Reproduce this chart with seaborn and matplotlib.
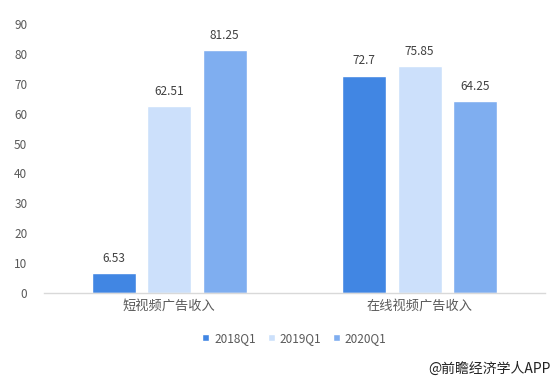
import pandas as pd
import matplotlib
matplotlib.use('Agg')
import matplotlib.pyplot as plt
import seaborn as sns

categories = ['短视频广告收入', '在线视频广告收入']
quarters = ['2018Q1', '2019Q1', '2020Q1']
q2018 = [6.53, 72.7]
q2019 = [62.51, 75.85]
q2020 = [81.25, 64.25]
colors = ['#4186E3', '#CCE0FB', '#7FAEF0']

df = pd.DataFrame({
    'cat': categories * 3,
    'quarter': [quarters[0]] * 2 + [quarters[1]] * 2 + [quarters[2]] * 2,
    'value': q2018 + q2019 + q2020,
})

sns.set_style('white')
plt.rcParams['font.family'] = ['Noto Sans CJK SC', 'DejaVu Sans']

fig = plt.figure(figsize=(5.57, 3.84), dpi=100)
ax = fig.add_axes([0.079, 0.237, 0.899, 0.7005])

sns.barplot(data=df, x='cat', y='value', hue='quarter', palette=colors,
            width=0.666, gap=0.21, ax=ax, saturation=1, legend=True)

for c in ax.containers:
    ax.bar_label(c, labels=[f'{v:g}' for v in c.datavalues], padding=6,
                 fontsize=8.5, color='#404040')

ax.set_ylim(0, 90)
ax.set_yticks(range(0, 91, 10))
ax.set_xlabel('')
ax.set_ylabel('')
for s in ['top', 'right', 'left']:
    ax.spines[s].set_visible(False)
ax.spines['bottom'].set_color('#D9D9D9')
ax.spines['bottom'].set_linewidth(1)
ax.tick_params(axis='y', length=0, labelsize=8.5, labelcolor='#595959', pad=12)
ax.tick_params(axis='x', length=0, labelsize=9.5, labelcolor='#595959', pad=5)

ax.legend(loc='upper center', bbox_to_anchor=(0.5, -0.105), ncol=3, frameon=False,
          fontsize=8.5, handlelength=0.6, handleheight=0.6, handletextpad=0.4,
          columnspacing=1.0, labelcolor='#595959')

fig.text(0.988, 0.02, '@前瞻经济学人APP', ha='right', va='bottom',
         fontsize=10, color='#222222')

fig.savefig('out.png', dpi=100)
